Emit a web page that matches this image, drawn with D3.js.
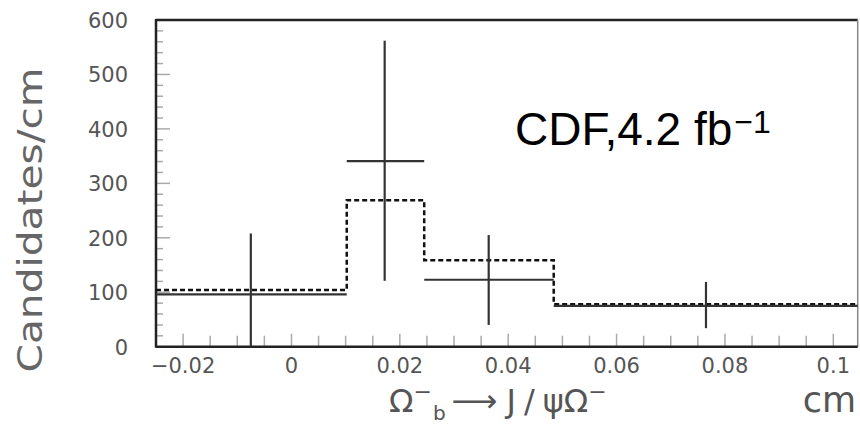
<!DOCTYPE html>
<html>
<head>
<meta charset="utf-8">
<script src="https://cdn.jsdelivr.net/npm/d3@7"></script>
<style>
  body { margin: 0; background: #fff; }
  svg { display: block; }
</style>
</head>
<body>
<div id="chart"></div>
<script>
const W = 860, H = 427;

// bin edges (cm), measured values, error bars, dashed model histogram
const binEdges = [-0.025, 0.0102, 0.0245, 0.0484, 0.1045];
const dataVals = [96, 341, 123, 75];
const errCenters = [-0.0075, 0.0172, 0.0364, 0.0765];
const errHi = [208, 562, 205, 119];
const errLo = [0, 121, 40, 34];
const modelVals = [104, 269, 159, 78];

const xTickVals = [-0.02, 0, 0.02, 0.04, 0.06, 0.08, 0.1];
const xTickLabels = ["\u22120.02", "0", "0.02", "0.04", "0.06", "0.08", "0.1"];
const yTickVals = [0, 100, 200, 300, 400, 500, 600];

const plotL = 156, plotR = 857.7, plotT = 20, plotB = 346.7;

const x = d3.scaleLinear().domain([-0.025, 0.1045]).range([plotL, plotR]);
const y = d3.scaleLinear().domain([0, 600]).range([plotB, plotT]);

const svg = d3.select("#chart").append("svg")
  .attr("width", W).attr("height", H)

const gray = "#555"

// minor + major ticks on x (every 0.005)
const xMinor = d3.range(-0.02, 0.1001, 0.005)
svg.append("g").selectAll("line")
  .data(xMinor)
  .join("line")
  .attr("x1", d => x(d)).attr("x2", d => x(d))
  .attr("y1", plotB)
  .attr("y2", (d, i) => i % 4 == 0 ? plotB - 13 : plotB - 11)
  .attr("stroke", "#aaa").attr("stroke-width", 1.5)

// ticks on y: minor every 20, major every 100
const yMinor = d3.range(20, 600, 20)
svg.append("g").selectAll("line")
  .data(yMinor)
  .join("line")
  .attr("x1", plotL)
  .attr("x2", d => d % 100 == 0 ? plotL + 14 : plotL + 7)
  .attr("y1", d => y(d)).attr("y2", d => y(d))
  .attr("stroke", "#aaa").attr("stroke-width", 1.5)

// frame
svg.append("line").attr("x1", plotL).attr("x2", plotR).attr("y1", plotT).attr("y2", plotT)
  .attr("stroke", "#222").attr("stroke-width", 2.5)
svg.append("line").attr("x1", plotR).attr("x2", plotR).attr("y1", plotT).attr("y2", plotB)
  .attr("stroke", "#888").attr("stroke-width", 1.5)
svg.append("line").attr("x1", plotL).attr("x2", plotL).attr("y1", plotT - 1).attr("y2", plotB + 1)
  .attr("stroke", "#222").attr("stroke-width", 2.5)
svg.append("line").attr("x1", plotL).attr("x2", plotR).attr("y1", plotB).attr("y2", plotB)
  .attr("stroke", "#222").attr("stroke-width", 2.5)

// tick labels
svg.append("g").selectAll("text")
  .data(yTickVals)
  .join("text")
  .attr("x", 128)
  .attr("y", d => y(d) + 8)
  .attr("text-anchor", "end")
  .attr("font-family", "DejaVu Sans")
  .attr("font-size", 21)
  .attr("fill", gray)
  .text(d => d)

svg.append("g").selectAll("text")
  .data(xTickVals)
  .join("text")
  .attr("x", d => x(d))
  .attr("y", 373)
  .attr("text-anchor", "middle")
  .attr("font-family", "DejaVu Sans")
  .attr("font-size", 21)
  .attr("fill", gray)
  .text((d, i) => xTickLabels[i])

// dashed model histogram
let stepPts = []
modelVals.forEach(function(v, i){
  stepPts.push([x(binEdges[i]), y(v)])
  stepPts.push([x(binEdges[i + 1]), y(v)])
})
svg.append("path")
  .attr("d", d3.line()(stepPts))
  .attr("fill", "none")
  .attr("stroke", "#111")
  .attr("stroke-width", 2.5)
  .attr("stroke-dasharray", "5,3")

// data: horizontal bin bars + vertical error bars
svg.append("g").selectAll("line")
  .data(dataVals)
  .join("line")
  .attr("x1", (d, i) => x(binEdges[i]))
  .attr("x2", (d, i) => x(binEdges[i + 1]))
  .attr("y1", d => y(d)).attr("y2", d => y(d))
  .attr("stroke", "#333").attr("stroke-width", 2.2)

svg.append("g").selectAll("line")
  .data(errCenters)
  .join("line")
  .attr("x1", d => x(d)).attr("x2", d => x(d))
  .attr("y1", (d, i) => y(errHi[i]))
  .attr("y2", (d, i) => y(errLo[i]))
  .attr("stroke", "#333").attr("stroke-width", 2.2)

// annotation
const cdf = svg.append("text")
  .attr("x", 515).attr("y", 145)
  .attr("font-family", "Liberation Sans, Arial, sans-serif")
  .attr("font-size", 46)
  .attr("fill", "#000")
cdf.append("tspan").text("CDF,4.2 fb")
cdf.append("tspan").attr("font-size", 32).attr("dy", -12).attr("dx", 2).text("\u22121")

// y axis title
svg.append("text")
  .attr("transform", "translate(42," + 220 + ") rotate(-90)")
  .attr("text-anchor", "middle")
  .attr("font-family", "DejaVu Sans")
  .attr("font-size", 34)
  .attr("fill", "#666")
  .attr("textLength", 305)
  .attr("lengthAdjust", "spacingAndGlyphs")
  .text("Candidates/cm")

// x axis title
const xl = svg.append("text")
  .attr("x", 389).attr("y", 412)
  .attr("font-family", "DejaVu Sans")
  .attr("font-size", 32)
  .attr("fill", gray)
xl.append("tspan").text("\u03A9")
xl.append("tspan").attr("font-size", 22).attr("dy", -13).text("\u2212")
xl.append("tspan").attr("font-size", 20).attr("dy", 21).attr("dx", 1).text("b")
xl.append("tspan").attr("dy", -8).attr("dx", 6).text("\u27F6")
xl.append("tspan").attr("dx", 9).text("J")
xl.append("tspan").attr("dx", 8).text("/")
xl.append("tspan").attr("dx", 8).text("\u03C8\u03A9")
xl.append("tspan").attr("font-size", 22).attr("dy", -13).text("\u2212")

svg.append("text")
  .attr("x", 856).attr("y", 412)
  .attr("text-anchor", "end")
  .attr("font-family", "DejaVu Sans")
  .attr("font-size", 35)
  .attr("fill", gray)
  .text("cm")
</script>
</body>
</html>
